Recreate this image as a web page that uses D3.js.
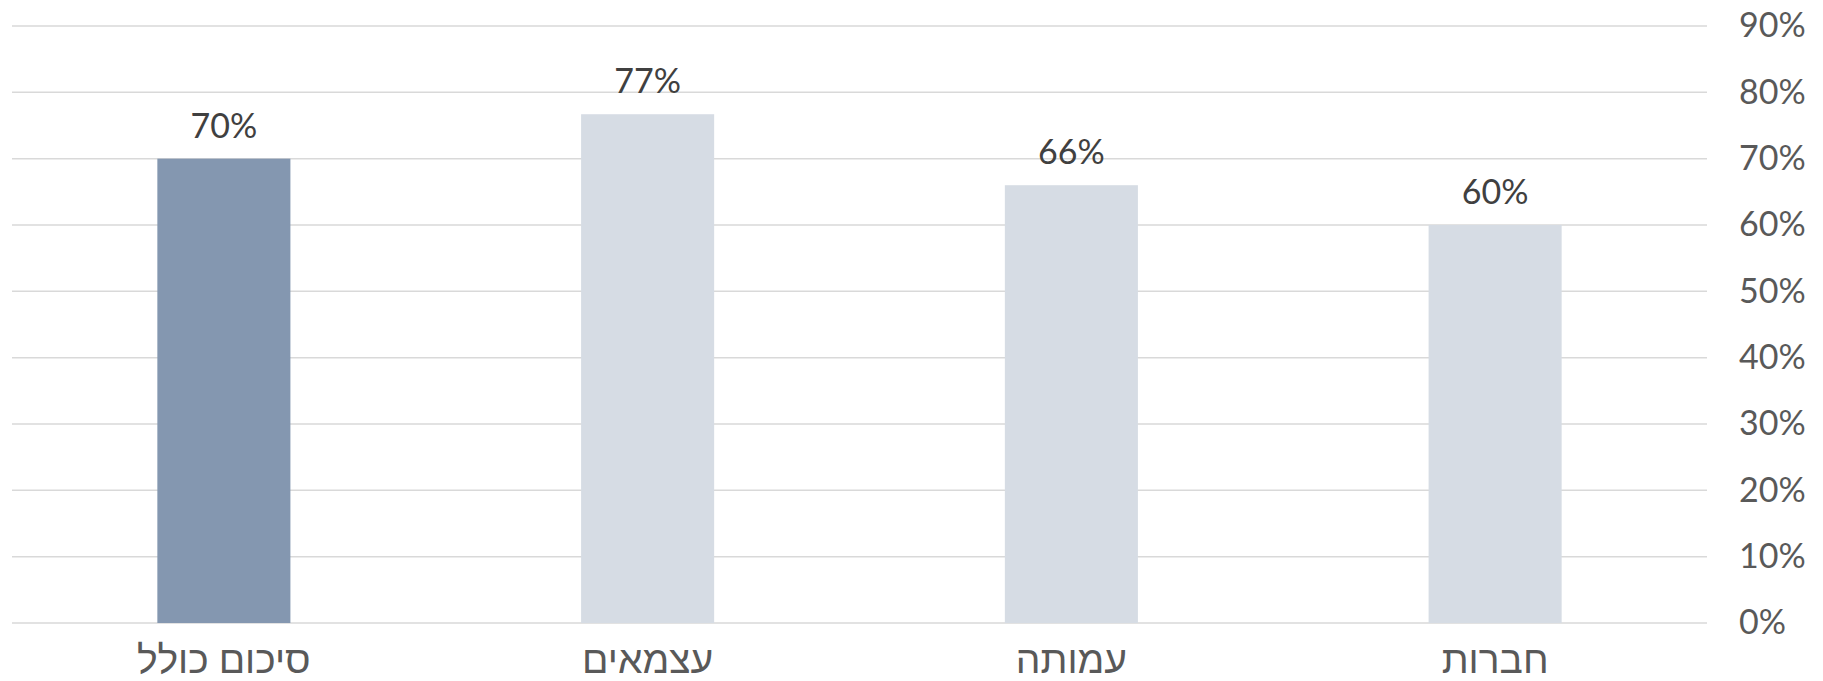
<!DOCTYPE html>
<html>
<head>
<meta charset="utf-8">
<script src="https://cdn.jsdelivr.net/npm/d3@7"></script>
<style>
  body { margin: 0; background: #fff; }
  text { font-family: Lato, "Liberation Sans", sans-serif; }
</style>
</head>
<body>
<div class="chart"></div>
<script>
const categories = ["סיכום כולל", "עצמאים", "עמותה", "חברות"];
const values = [0.70, 0.767, 0.66, 0.60];
const yTicks = [0, 0.1, 0.2, 0.3, 0.4, 0.5, 0.6, 0.7, 0.8, 0.9];

const margin = {top: 26, left: 12, bottom: 58, right: 116};
const width = 1823 - margin.left - margin.right;
const height = 681 - margin.top - margin.bottom;

const svg = d3.select('.chart').append('svg')
    .attr('width', 1823)
    .attr('height', 681)
    .append('g')
    .attr('transform', 'translate(' + margin.left + ',' + margin.top + ')');

const xScale = d3.scaleBand()
    .domain(categories)
    .range([0, width])
    .paddingInner(0.686)
    .paddingOuter(0.343);

const yScale = d3.scaleLinear()
    .domain([0, 0.9])
    .range([height, 0]);

// gridlines
svg.selectAll('.grid')
    .data(yTicks)
    .enter()
    .append('line')
    .attr('x1', 0)
    .attr('x2', width)
    .attr('y1', d => yScale(d))
    .attr('y2', d => yScale(d))
    .attr('stroke', '#d9d9d9')
    .attr('stroke-width', 1.5);

const yAxis = d3.axisRight(yScale)
    .tickValues(yTicks)
    .tickSize(0)
    .tickPadding(32)
    .tickFormat(d3.format('.0%'));

svg.append('g')
    .attr('class', 'axis y-axis')
    .attr('transform', `translate(${width}, 0)`)
    .call(yAxis)
    .call(g => g.select('.domain').remove())
    .selectAll('text')
    .attr('font-family', 'Lato, sans-serif')
    .attr('font-size', 34)
    .attr('fill', '#595959');

svg.selectAll('rect')
    .data(values)
    .enter()
    .append('rect')
    .attr('x', (d, i) => xScale(categories[i]))
    .attr('width', xScale.bandwidth())
    .attr('y', d => yScale(d))
    .attr('height', d => height - yScale(d))
    .attr('fill', (d, i) => i === 0 ? '#8497b0' : '#d6dce4');

svg.selectAll('.value')
    .data(values)
    .enter()
    .append('text')
    .attr('class', 'value')
    .attr('x', (d, i) => xScale(categories[i]) + xScale.bandwidth() / 2)
    .attr('y', d => yScale(d) - 21)
    .attr('text-anchor', 'middle')
    .attr('font-size', 34)
    .attr('fill', '#404040')
    .text(d => d3.format('.0%')(d));

svg.selectAll('.cat')
    .data(categories)
    .enter()
    .append('text')
    .attr('class', 'cat')
    .attr('x', d => xScale(d) + xScale.bandwidth() / 2)
    .attr('y', height + 50)
    .attr('text-anchor', 'middle')
    .attr('font-family', '"Liberation Sans", "DejaVu Sans", sans-serif')
    .attr('font-size', 39)
    .attr('fill', '#595959')
    .text(d => d);
</script>
</body>
</html>
